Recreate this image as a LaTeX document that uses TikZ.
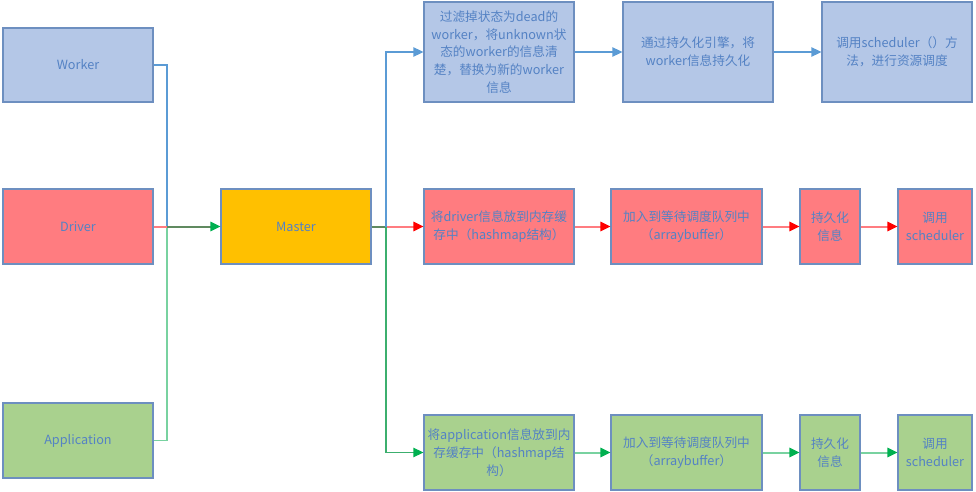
\documentclass[tikz,border=0pt]{standalone}
\usepackage{fontspec}
\setmainfont{Noto Sans CJK SC}
\usetikzlibrary{arrows.meta}
\definecolor{boxborder}{RGB}{109,143,192}
\definecolor{textcol}{RGB}{84,130,196}
\definecolor{workerfill}{HTML}{B4C7E7}
\definecolor{driverfill}{HTML}{FF7C80}
\definecolor{appfill}{HTML}{A9D18E}
\definecolor{masterfill}{HTML}{FFC000}
\definecolor{blueline}{RGB}{91,155,213}
\definecolor{redline}{HTML}{FF7C80}
\definecolor{redhead}{HTML}{FF0000}
\definecolor{greenline}{RGB}{120,210,160}
\definecolor{midgreen}{RGB}{60,175,110}
\definecolor{greenhead}{HTML}{00B050}
\definecolor{darkline}{RGB}{96,138,96}
\tikzset{
  box/.style 2 args={draw=boxborder, line width=0.8pt, minimum width={#1*0.75pt},
    minimum height={#2*0.75pt}, inner sep=0pt, align=center, text=textcol,
    font=\fontsize{9.5}{13.3}\selectfont},
  bluearr/.style={draw=blueline, line width=0.9pt, -{Triangle[length=7.5pt,width=7pt,color=blueline]}},
  redarr/.style={draw=redline, line width=1.5pt, -{Triangle[length=7.5pt,width=7pt,color=redhead]}},
  greenarr/.style={draw=greenline, line width=1.5pt, -{Triangle[length=7.5pt,width=7pt,color=greenhead]}},
  thinblue/.style={draw=blueline, line width=0.8pt},
  thinred/.style={draw=redline, line width=1.5pt},
  thingreen/.style={draw=greenline, line width=0.8pt},
  merged/.style={draw=darkline, line width=1.5pt},
}
\begin{document}
\begin{tikzpicture}[x=0.75pt,y=-0.75pt]
\useasboundingbox (0,0) rectangle (976,492);
% left column
\node[box={150}{74}, fill=workerfill] (W) at (78,65) {Worker};
\node[box={150}{75}, fill=driverfill] (D) at (78,226.5) {Driver};
\node[box={150}{75}, fill=appfill] (A) at (78,440.5) {Application};
\node[box={150}{75}, fill=masterfill] (Ma) at (296,226.5) {Master};
% top row
\node[box={150}{100}, fill=workerfill] (T1) at (499,52) {过滤掉状态为dead的\\worker，将unknown状\\态的worker的信息清\\楚，替换为新的worker\\信息};
\node[box={150}{100}, fill=workerfill] (T2) at (698,52) {通过持久化引擎，将\\worker信息持久化};
\node[box={150}{100}, fill=workerfill] (T3) at (897,52) {调用scheduler（）方\\法，进行资源调度};
% middle row
\node[box={150}{75}, fill=driverfill] (M1) at (499,226.5) {将driver信息放到内存缓\\存中（hashmap结构）};
\node[box={151}{75}, fill=driverfill] (M2) at (686.5,226.5) {加入到等待调度队列中\\（arraybuffer）};
\node[box={60}{75}, fill=driverfill] (M3) at (830,226.5) {持久化\\信息};
\node[box={74}{75}, fill=driverfill] (M4) at (935,226.5) {调用\\scheduler};
% bottom row
\node[box={150}{75}, fill=appfill] (B1) at (499,452.5) {将application信息放到内\\存缓存中（hashmap结\\构）};
\node[box={151}{75}, fill=appfill] (B2) at (686.5,452.5) {加入到等待调度队列中\\（arraybuffer）};
\node[box={60}{75}, fill=appfill] (B3) at (830,452.5) {持久化\\信息};
\node[box={74}{75}, fill=appfill] (B4) at (935,452.5) {调用\\scheduler};
% junctions
\coordinate (jL) at (167,226.5);
\coordinate (jR) at (386,226.5);
% left connectors
\draw[thinblue] (W.east) -| (jL);
\draw[thingreen] (A.east) -| (jL);
\draw[thinred] (D.east) -- (jL);
\draw[merged, -{Triangle[length=7.5pt,width=7pt,color=greenhead]}] (jL) -- (Ma.west);
% right connectors
\draw[merged] (Ma.east) -- (jR);
\draw[redarr] (jR) -- (M1.west);
\draw[bluearr] (jR) |- (T1.west);
\draw[draw=midgreen, line width=0.8pt, -{Triangle[length=7.5pt,width=7pt,color=greenhead]}] (jR) |- (B1.west);
% row arrows
\draw[bluearr] (T1.east) -- (T2.west);
\draw[bluearr] (T2.east) -- (T3.west);
\draw[redarr] (M1.east) -- (M2.west);
\draw[redarr] (M2.east) -- (M3.west);
\draw[redarr] (M3.east) -- (M4.west);
\draw[greenarr] (B1.east) -- (B2.west);
\draw[greenarr] (B2.east) -- (B3.west);
\draw[greenarr] (B3.east) -- (B4.west);
\end{tikzpicture}
\end{document}
